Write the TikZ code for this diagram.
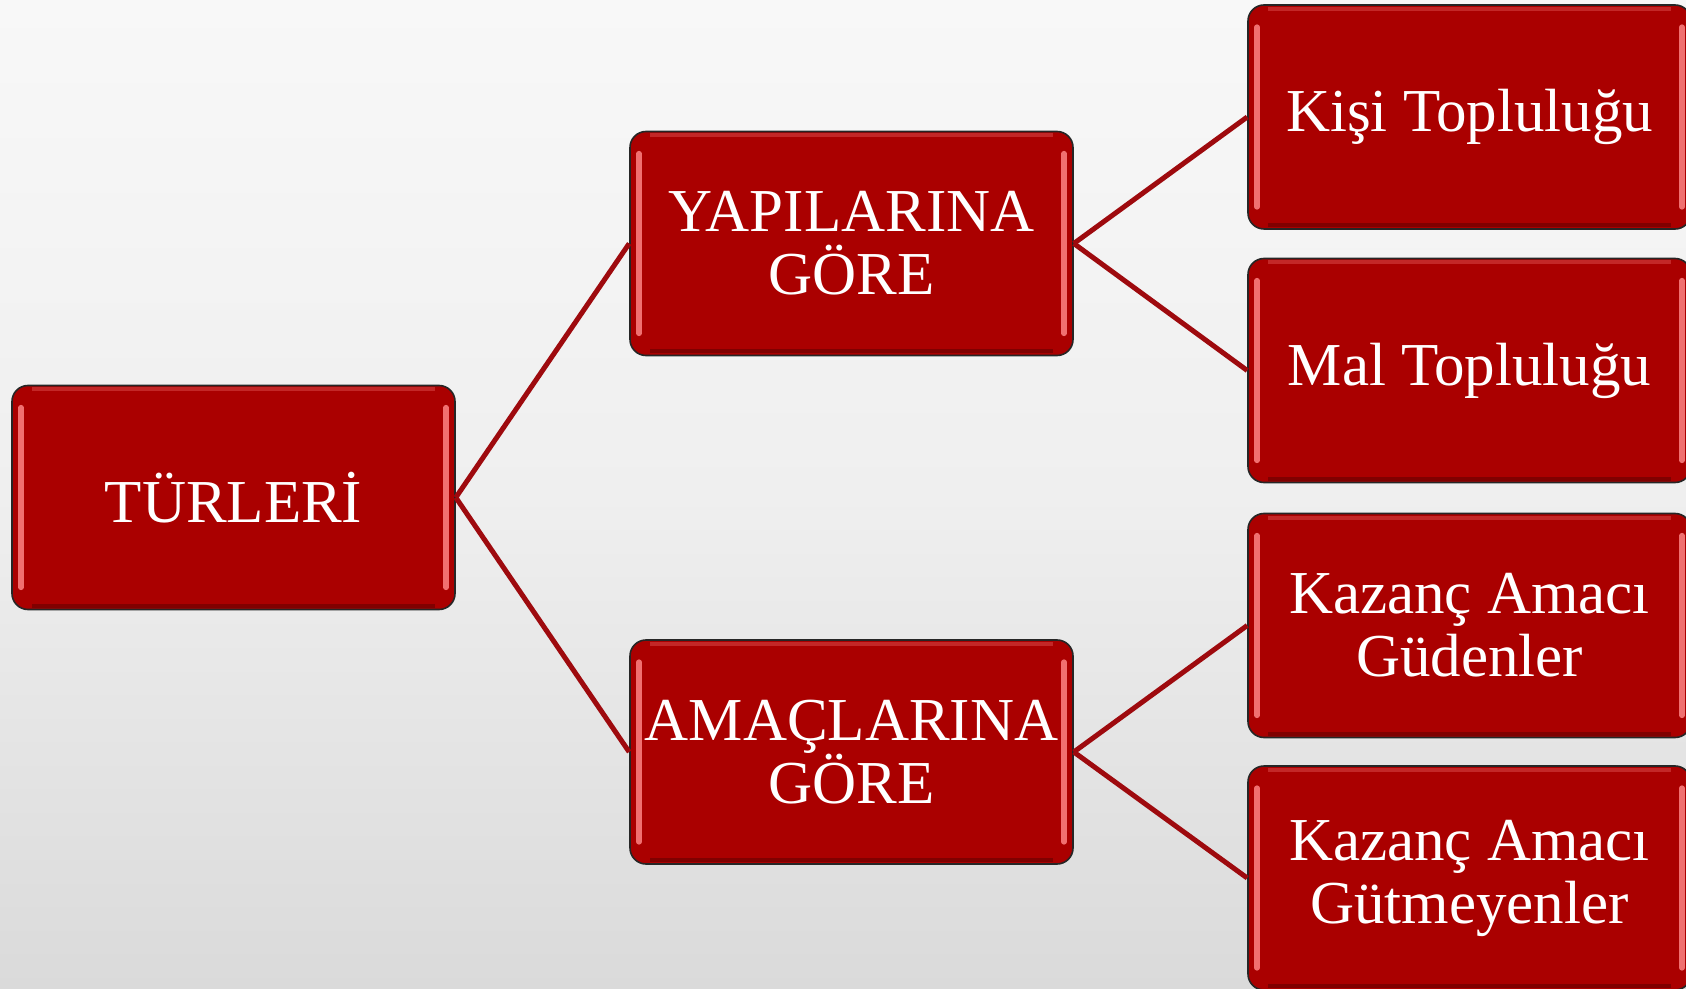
\documentclass[tikz,border=0pt]{standalone}
\usepackage{fontspec}
\setmainfont{Liberation Serif}
\definecolor{boxred}{HTML}{AA0000}
\definecolor{linered}{HTML}{9E0A0E}
\definecolor{hlred}{HTML}{F07070}
\definecolor{bgtop}{HTML}{F8F8F8}
\definecolor{bgbot}{HTML}{DADADA}
\tikzset{
  box/.style={draw=black!85, line width=0.8pt, fill=boxred, rounded corners=8pt,
    minimum width=221.5pt, minimum height=112pt, inner sep=0pt, text=white, align=center,
    font=\fontsize{30.5}{31.5}\selectfont,
    path picture={
      \draw[hlred, line width=2.6pt, line cap=round]
        ([xshift=4.5pt,yshift=-11pt]path picture bounding box.north west) --
        ([xshift=4.5pt,yshift=11pt]path picture bounding box.south west);
      \draw[hlred, line width=2.6pt, line cap=round]
        ([xshift=-4.5pt,yshift=-11pt]path picture bounding box.north east) --
        ([xshift=-4.5pt,yshift=11pt]path picture bounding box.south east);
      \draw[hlred!35!boxred, line width=2pt]
        ([xshift=10pt,yshift=-2pt]path picture bounding box.north west) --
        ([xshift=-10pt,yshift=-2pt]path picture bounding box.north east);
      \draw[boxred!75!black, line width=2pt]
        ([xshift=10pt,yshift=2pt]path picture bounding box.south west) --
        ([xshift=-10pt,yshift=2pt]path picture bounding box.south east);
    }},
  conn/.style={draw=linered, line width=2.5pt}
}
\begin{document}
\begin{tikzpicture}[x=0.5pt, y=-0.5pt]
\useasboundingbox (0,0) rectangle (1686,989);
\clip (0,0) rectangle (1686,989);
\shade[top color=bgtop, bottom color=bgbot, middle color=bgtop!70!bgbot] (0,0) rectangle (1686,989);

\node[box] (tur) at (233.5,497.5) {TÜRLERİ};
\node[box] (yap) at (851.5,243.5) {YAPILARINA\\GÖRE};
\node[box] (ama) at (851.5,752) {AMAÇLARINA\\GÖRE};
\node[box] (kis) at (1469.5,117) {Kişi Topluluğu};
\node[box] (mal) at (1469.5,370.5) {Mal Topluluğu};
\node[box] (kg) at (1469.5,625.5) {Kazanç Amacı\\Güdenler};
\node[box] (kgt) at (1469.5,878) {Kazanç Amacı\\Gütmeyenler};

\draw[conn] (tur.east) -- (yap.west);
\draw[conn] (tur.east) -- (ama.west);
\draw[conn] (yap.east) -- (kis.west);
\draw[conn] (yap.east) -- (mal.west);
\draw[conn] (ama.east) -- (kg.west);
\draw[conn] (ama.east) -- (kgt.west);
\end{tikzpicture}
\end{document}
